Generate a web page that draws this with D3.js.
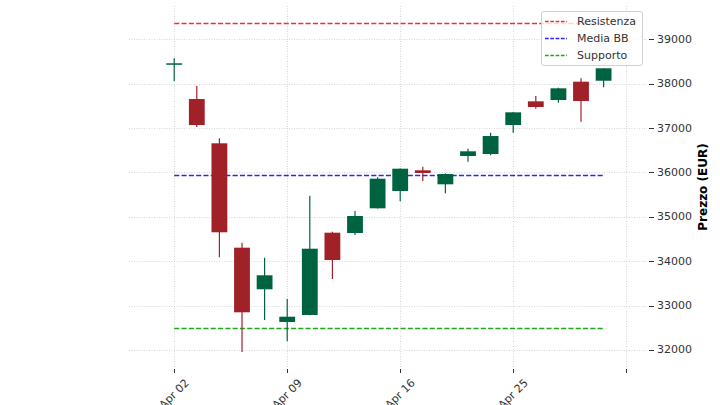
<!DOCTYPE html>
<html>
<head>
<meta charset="utf-8">
<script src="https://cdn.jsdelivr.net/npm/d3@7"></script>
<style>
  html, body { margin: 0; padding: 0; background: #fff; }
  svg { display: block; font-family: "DejaVu Sans", sans-serif; }
</style>
</head>
<body>
<svg id="chart" width="720" height="405"></svg>
<script>
// ---- data ----
const dates = ["Apr 02","Apr 03","Apr 04","Apr 05","Apr 08","Apr 09","Apr 10","Apr 11","Apr 12","Apr 15",
               "Apr 16","Apr 17","Apr 18","Apr 19","Apr 24","Apr 25","Apr 26","Apr 29","Apr 30","May 02"];
const open  = [38430, 37655, 36657, 34305, 33368, 32631, 32789, 34643, 34636, 35192,
               35582, 36049, 35733, 36371, 36416, 37069, 37603, 37633, 38045, 38067];
const high  = [38572, 37948, 36770, 34417, 34080, 33149, 35476, 34665, 35132, 35890,
               36090, 36130, 35980, 36535, 36896, 37360, 37723, 37910, 38121, 38350];
const low   = [38061, 37024, 34089, 31955, 32676, 32196, 32780, 33600, 34591, 35190,
               35350, 35808, 35530, 36243, 36386, 36896, 37437, 37572, 37144, 37919];
const close = [38460, 37069, 34652, 32849, 33683, 32750, 34282, 34028, 35019, 35859,
               36085, 35988, 35965, 36477, 36821, 37355, 37475, 37896, 37610, 38347];
const tickIndex = [0, 5, 10, 15, 20];
const yTicks = [32000, 33000, 34000, 35000, 36000, 37000, 38000, 39000];
const levelNames = ["Resistenza", "Media BB", "Supporto"];
const levelValues = [39360, 35940, 32490];
const levelColors = ["#f03030", "#2828f5", "#1ea81e"];
const upColor = "#006340", downColor = "#A02128";

// ---- layout ----
const svg = d3.select("#chart");
const L = 129, R = 647, T = 6, B = 368;
const x = d3.scaleLinear().domain([-2, 20.92]).range([L, R]);
const y = d3.scaleLinear().domain([31594, 39751]).range([B, T]);
const snap = v => Math.round(v) + 0.5;
const step = x(1) - x(0);
const bodyW = step * 0.7;

// grid
const grid = svg.append("g");
grid.selectAll("line.h").data(yTicks).join("line")
  .attr("x1", L).attr("x2", R)
  .attr("y1", d => snap(y(d))).attr("y2", d => snap(y(d)))
  .attr("stroke", "#cccccc").attr("stroke-width", 0.8).attr("stroke-dasharray", "1,1.5");
grid.selectAll("line.v").data(tickIndex).join("line")
  .attr("x1", d => snap(x(d))).attr("x2", d => snap(x(d)))
  .attr("y1", T).attr("y2", B)
  .attr("stroke", "#cccccc").attr("stroke-width", 0.8).attr("stroke-dasharray", "1,1.5");

// level lines
const idx = d3.range(dates.length);
levelValues.forEach((v, k) => {
  svg.append("line")
    .attr("x1", x(0)).attr("x2", x(dates.length - 1))
    .attr("y1", snap(y(v))).attr("y2", snap(y(v)))
    .attr("stroke", levelColors[k]).attr("stroke-width", 1.4)
    .attr("stroke-dasharray", "5.1,2.2");
});

// candles
const candles = svg.append("g").selectAll("g").data(idx).join("g");
candles.append("line")
  .attr("x1", i => x(i)).attr("x2", i => x(i))
  .attr("y1", i => y(high[i])).attr("y2", i => y(low[i]))
  .attr("stroke", i => close[i] >= open[i] ? upColor : downColor)
  .attr("stroke-width", 1.2);
candles.append("rect")
  .attr("x", i => x(i) - bodyW / 2)
  .attr("width", bodyW)
  .attr("y", i => y(Math.max(open[i], close[i])))
  .attr("height", i => Math.max(1.5, Math.abs(y(open[i]) - y(close[i]))))
  .attr("fill", i => close[i] >= open[i] ? upColor : downColor);

// x axis ticks
const xt = svg.append("g");
xt.selectAll("line").data(tickIndex).join("line")
  .attr("x1", d => snap(x(d))).attr("x2", d => snap(x(d)))
  .attr("y1", B + 1).attr("y2", B + 5)
  .attr("stroke", "#333").attr("stroke-width", 1);
xt.selectAll("text").data(tickIndex.filter(d => d < dates.length)).join("text")
  .attr("transform", d => `translate(${x(d)},${B + 26}) rotate(-45)`)
  .attr("text-anchor", "middle").attr("dominant-baseline", "central")
  .attr("font-size", 11).attr("fill", "#333")
  .text(d => dates[d]);

// y axis (right)
const yt = svg.append("g");
yt.selectAll("line").data(yTicks).join("line")
  .attr("x1", R + 2).attr("x2", R + 7)
  .attr("y1", d => snap(y(d))).attr("y2", d => snap(y(d)))
  .attr("stroke", "#333").attr("stroke-width", 1);
yt.selectAll("text").data(yTicks).join("text")
  .attr("x", R + 10).attr("y", d => y(d))
  .attr("dominant-baseline", "central")
  .attr("font-size", 11).attr("fill", "#333")
  .text(d => d);
svg.append("text")
  .attr("transform", `translate(703,${(T + B) / 2}) rotate(-90)`)
  .attr("text-anchor", "middle").attr("dominant-baseline", "central")
  .attr("font-size", 12).attr("font-weight", "bold").attr("fill", "#000")
  .text("Prezzo (EUR)");

// legend
const lg = svg.append("g");
lg.append("rect").attr("x", 541.5).attr("y", 11.5).attr("width", 101).attr("height", 54)
  .attr("rx", 2.5).attr("fill", "#fff").attr("fill-opacity", 0.8)
  .attr("stroke", "#d0d0d0").attr("stroke-width", 1);
levelNames.forEach((n, k) => {
  const yy = 21 + k * 17;
  lg.append("line").attr("x1", 545).attr("x2", 567).attr("y1", yy + 0.5).attr("y2", yy + 0.5)
    .attr("stroke", levelColors[k]).attr("stroke-width", 1.4).attr("stroke-dasharray", "3.7,1.6");
  lg.append("text").attr("x", 577).attr("y", yy).attr("dominant-baseline", "central")
    .attr("font-size", 11).attr("fill", "#333").text(n);
});
</script>
</body>
</html>
